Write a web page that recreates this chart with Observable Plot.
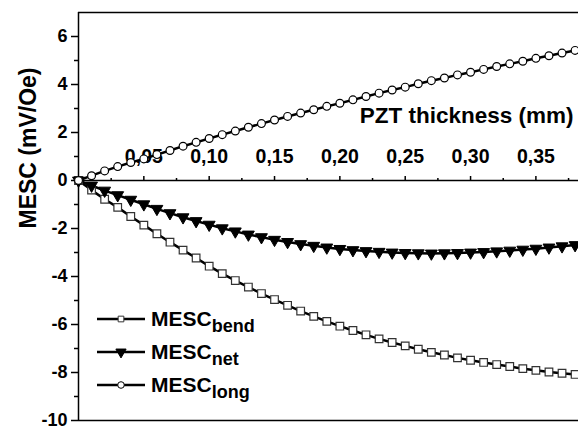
<!DOCTYPE html>
<html><head><meta charset="utf-8">
<script src="https://cdn.jsdelivr.net/npm/d3@7"></script>
<script src="https://cdn.jsdelivr.net/npm/@observablehq/plot@0.6"></script>
<style>body{margin:0;background:#fff;} svg{display:block}</style>
</head><body><div id="chart"></div>
<script>
const thickness = [0.00,0.01,0.02,0.03,0.04,0.05,0.06,0.07,0.08,0.09,0.10,0.11,0.12,0.13,0.14,0.15,0.16,0.17,0.18,0.19,0.20,0.21,0.22,0.23,0.24,0.25,0.26,0.27,0.28,0.29,0.30,0.31,0.32,0.33,0.34,0.35,0.36,0.37,0.38];
const mescBend = [0,-0.4,-0.78,-1.12,-1.5,-1.86,-2.22,-2.57,-2.9,-3.23,-3.57,-3.88,-4.17,-4.44,-4.71,-4.96,-5.2,-5.44,-5.66,-5.87,-6.07,-6.25,-6.43,-6.6,-6.75,-6.89,-7.03,-7.16,-7.27,-7.39,-7.49,-7.58,-7.67,-7.75,-7.84,-7.91,-7.98,-8.03,-8.08];
const mescNet = [0,-0.21,-0.42,-0.61,-0.8,-0.99,-1.18,-1.36,-1.53,-1.69,-1.84,-1.99,-2.12,-2.25,-2.36,-2.47,-2.56,-2.65,-2.72,-2.79,-2.85,-2.9,-2.94,-2.97,-3.0,-3.02,-3.03,-3.04,-3.03,-3.02,-3.0,-2.98,-2.95,-2.92,-2.88,-2.84,-2.79,-2.74,-2.69];
const mescLong = [0,0.2,0.4,0.58,0.75,0.9,1.08,1.25,1.43,1.59,1.75,1.91,2.06,2.22,2.37,2.52,2.67,2.81,2.95,3.09,3.22,3.36,3.5,3.64,3.77,3.89,4.03,4.16,4.27,4.4,4.51,4.63,4.75,4.86,4.97,5.09,5.2,5.31,5.42];
const yTicks = [-10,-8,-6,-4,-2,0,2,4,6];
const yMinor = [-9,-7,-5,-3,-1,1,3,5];
const xTicks = [0.05,0.10,0.15,0.20,0.25,0.30,0.35];
const xMinor = [0.025,0.075,0.125,0.175,0.225,0.275,0.325,0.375];
const xLabel = "PZT thickness (mm)";
const yLabel = "MESC (mV/Oe)";
const legendMain = "MESC";
const legendSubs = ["bend","net","long"];

const font = "'Liberation Sans', Arial, sans-serif";
const rows = thickness.map((t, i) => ({t, bend: mescBend[i], net: mescNet[i], long: mescLong[i]}));
const rBox = 4.3, rTri = 4.4, rCirc = 3.9;

const chart = Plot.plot({
  width: 578, height: 428,
  marginLeft: 78, marginRight: 0, marginTop: 12, marginBottom: 8,
  style: {fontFamily: font, fontWeight: "bold", fontSize: "18px", background: "white", color: "black", overflow: "visible"},
  x: {domain: [0, 0.3826]},
  y: {domain: [-10, 7]},
  marks: [
    Plot.ruleY([7], {strokeWidth: 1.5}),
    Plot.ruleY([-10], {strokeWidth: 1.5}),
    Plot.ruleY([0], {strokeWidth: 1.5}),
    Plot.ruleX([0], {strokeWidth: 1.5}),
    Plot.axisY(yTicks, {tickSize: 7, tickPadding: 4, strokeWidth: 1.5, fontSize: 18, fontWeight: "bold", tickFormat: d => String(d), label: null}),
    Plot.axisY(yMinor, {tickSize: 4, strokeWidth: 1.5, text: null, label: null}),
    Plot.axisX(xTicks, {anchor: "top", dy: 168, tickSize: 5, tickPadding: 13, strokeWidth: 1.5, fontSize: 19.5, fontWeight: "bold", tickFormat: d => d.toFixed(2).replace(".", ","), label: null}),
    Plot.axisX(xMinor, {anchor: "top", dy: 168, tickSize: 3, strokeWidth: 1.5, text: null, label: null}),
    Plot.text([xLabel], {frameAnchor: "top-right", dx: -5, dy: 95, fontSize: 22.5, fontWeight: "bold"}),
    Plot.text([yLabel], {frameAnchor: "left", rotate: -90, dx: -50, dy: 12, fontSize: 23, fontWeight: "bold"}),
    Plot.line(rows, {x: "t", y: "long", stroke: "black", strokeWidth: 2.5}),
    Plot.line(rows, {x: "t", y: "bend", stroke: "black", strokeWidth: 2.5}),
    Plot.line(rows, {x: "t", y: "net", stroke: "black", strokeWidth: 2.5}),
    Plot.dot(rows, {x: "t", y: "bend", symbol: "square", r: rBox, fill: "white", stroke: "#333", strokeWidth: 1.2}),
    Plot.dot(rows, {x: "t", y: "net", symbol: "triangle", rotate: 180, r: rTri, fill: "black", stroke: "black", strokeWidth: 1}),
    Plot.dot(rows, {x: "t", y: "long", symbol: "circle", r: rCirc, fill: "white", stroke: "black", strokeWidth: 1.2})
  ]
});
document.getElementById("chart").appendChild(chart);

// legend
const svg = d3.select(chart);
const leg = svg.append("g").attr("font-family", font).attr("font-weight", "bold").attr("text-anchor", "start");
const legY = [319, 352, 385];
const symbols = [
  {type: d3.symbolSquare, r: 3.2, fill: "white", stroke: "#333", rot: 0},
  {type: d3.symbolTriangle, r: 3.8, fill: "black", stroke: "black", rot: 180},
  {type: d3.symbolCircle, r: 3.3, fill: "white", stroke: "black", rot: 0}
];
legendSubs.forEach((sub, i) => {
  const y = legY[i];
  leg.append("line").attr("x1", 97).attr("x2", 145).attr("y1", y).attr("y2", y).attr("stroke", "black").attr("stroke-width", 2.5);
  const s = symbols[i];
  leg.append("path").attr("d", d3.symbol(s.type, Math.PI * s.r * s.r)())
    .attr("transform", `translate(121,${y}) rotate(${s.rot})`)
    .attr("fill", s.fill).attr("stroke", s.stroke).attr("stroke-width", 1);
  const t = leg.append("text").attr("x", 151).attr("y", y + 7).attr("font-size", 21).attr("fill", "black");
  t.append("tspan").text(legendMain);
  t.append("tspan").attr("dy", 6).attr("font-size", 18).text(sub);
});
</script></body></html>
